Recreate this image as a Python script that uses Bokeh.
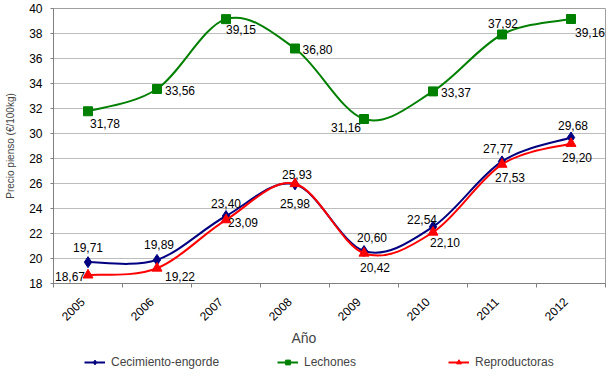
import numpy as np
from bokeh.plotting import figure
from bokeh.layouts import column
from bokeh.models import Range1d, FixedTicker, Legend, LegendItem, Title, ColumnDataSource
from bokeh.core.properties import value
from bokeh.embed import file_html
from bokeh.resources import INLINE

# ---- data ----
years = ["2005", "2006", "2007", "2008", "2009", "2010", "2011", "2012"]
crecimiento = [19.71, 19.89, 23.40, 25.93, 20.60, 22.54, 27.77, 29.68]
lechones = [31.78, 33.56, 39.15, 36.80, 31.16, 33.37, 37.92, 39.16]
reproductoras = [18.67, 19.22, 23.09, 25.98, 20.42, 22.10, 27.53, 29.20]
y_ticks = list(range(18, 41, 2))
series_names = ["Cecimiento-engorde", "Lechones", "Reproductoras"]

# ---- label offsets (pixels, style only) ----
off_crec = [(0, -15), (2, -15), (0, -12.5), (2, -10), (8, -13.5), (-11, -7), (-4, -13), (2, -12)]
off_lech = [(17, 12), (23, 1), (15, 10), (22.5, 1), (-18, 8), (23, 1), (1, -11), (19, 13)]
off_repr = [(-18, 1.5), (23, 8), (17, 2.5), (0, 19.5), (11, 14), (12, 10), (8, 13), (6, 14)]
TICK_LABEL_SHIFT = -0.08  # small horizontal nudge of rotated year labels

FONT = "Liberation Sans"

p = figure(width=610, height=346, output_backend="svg", toolbar_location=None,
           x_range=Range1d(-0.5, 7.5), y_range=Range1d(18, 40),
           min_border_left=53, min_border_right=5, min_border_top=8, min_border_bottom=63)
p.outline_line_color = "#a0a0a0"
p.xgrid.visible = False
p.ygrid.grid_line_color = "#bdbdbd"

xs = list(range(len(years)))

# axes
label_pos = [i + TICK_LABEL_SHIFT for i in xs]
p.xaxis.ticker = FixedTicker(ticks=label_pos, minor_ticks=[i - 0.5 for i in range(len(years) + 1)])
p.xaxis.major_label_overrides = {lp: y for lp, y in zip(label_pos, years)}
p.xaxis.major_label_orientation = np.pi / 4
p.xaxis.major_tick_out = 0
p.xaxis.major_tick_in = 0
p.xaxis.major_tick_line_color = None
p.xaxis.minor_tick_out = 4
p.xaxis.minor_tick_in = 0
p.xaxis.major_label_standoff = 12
p.xaxis.axis_line_color = "#808080"
p.xaxis.minor_tick_line_color = "#808080"
p.xaxis.major_label_text_font = FONT
p.xaxis.major_label_text_font_size = "12px"
p.xaxis.major_label_text_color = "black"

p.yaxis.ticker = FixedTicker(ticks=y_ticks)
p.yaxis.major_tick_out = 3
p.yaxis.major_tick_in = 0
p.yaxis.minor_tick_line_color = None
p.yaxis.axis_line_color = "#808080"
p.yaxis.major_tick_line_color = "#808080"
p.yaxis.major_label_standoff = 8
p.yaxis.major_label_text_font = FONT
p.yaxis.major_label_text_font_size = "12px"
p.yaxis.major_label_text_color = "black"
p.yaxis.axis_label = "Precio pienso (€/100kg)"
p.yaxis.axis_label_text_font = FONT
p.yaxis.axis_label_text_font_size = "10px"
p.yaxis.axis_label_text_font_style = "normal"
p.yaxis.axis_label_standoff = 10

p.add_layout(Title(text="Año", align="left", offset=238, text_font=FONT,
                   text_font_size="14px", text_font_style="normal", standoff=0), "below")


def bezier_source(ys):
    n = len(ys)
    x = np.arange(n, dtype=float)
    y = np.array(ys, dtype=float)
    xp = np.concatenate([[x[0]], x, [x[-1]]])
    yp = np.concatenate([[y[0]], y, [y[-1]]])
    d = dict(x0=[], y0=[], x1=[], y1=[], cx0=[], cy0=[], cx1=[], cy1=[])
    for i in range(n - 1):
        j = i + 1
        d["x0"].append(xp[j]); d["y0"].append(yp[j])
        d["x1"].append(xp[j + 1]); d["y1"].append(yp[j + 1])
        d["cx0"].append(xp[j] + (xp[j + 1] - xp[j - 1]) / 6)
        d["cy0"].append(yp[j] + (yp[j + 1] - yp[j - 1]) / 6)
        d["cx1"].append(xp[j + 1] - (xp[j + 2] - xp[j]) / 6)
        d["cy1"].append(yp[j + 1] - (yp[j + 2] - yp[j]) / 6)
    return ColumnDataSource(d)


def fmt(v):
    return f"{v:.2f}".replace(".", ",")


specs = [
    (crecimiento, "#000080", "diamond", 11, off_crec),
    (lechones, "#008000", "square", 9, off_lech),
    (reproductoras, "#ff0000", "triangle", 10, off_repr),
]

for (vals, col, marker, size, offs) in specs:
    p.bezier(x0="x0", y0="y0", x1="x1", y1="y1", cx0="cx0", cy0="cy0",
             cx1="cx1", cy1="cy1", source=bezier_source(vals),
             line_color=col, line_width=2)
    p.scatter(xs, vals, marker=marker, size=size, fill_color=col, line_color=col)

for (vals, col, marker, size, offs) in specs:
    src = ColumnDataSource(dict(x=xs, y=vals, t=[fmt(v) for v in vals],
                                dx=[o[0] for o in offs], dy=[o[1] for o in offs]))
    p.text(x="x", y="y", text="t", x_offset="dx", y_offset="dy", source=src,
           text_align="center", text_baseline="middle", text_font=value(FONT),
           text_font_size="12px", text_color="black")

# ---- legend strip (separate figure so it is not clipped) ----
p2 = figure(width=610, height=32, output_backend="svg", toolbar_location=None,
            x_range=Range1d(-0.5, 7.5), y_range=Range1d(1000, 1001),
            min_border_left=0, min_border_right=0, min_border_top=0, min_border_bottom=0,
            x_axis_type=None, y_axis_type=None)
p2.outline_line_color = None
p2.grid.visible = False

legend_x = [31, 224, 395]
for (vals, col, marker, size, offs), name, lx in zip(specs, series_names, legend_x):
    r_line = p2.line(xs, vals, line_color=col, line_width=2)
    r_mark = p2.scatter(xs, vals, marker=marker, size=size - 1, fill_color=col, line_color=col)
    lg = Legend(items=[LegendItem(label=name, renderers=[r_line, r_mark])],
                location=(lx, 9), orientation="horizontal",
                glyph_width=21, glyph_height=12, label_height=12, label_standoff=6,
                padding=0, margin=0, border_line_color=None, background_fill_alpha=0,
                label_text_font=FONT, label_text_font_size="12px", spacing=0)
    p2.add_layout(lg, "center")

layout = column(p, p2, spacing=0)
open("out.html", "w").write(file_html(layout, INLINE))
